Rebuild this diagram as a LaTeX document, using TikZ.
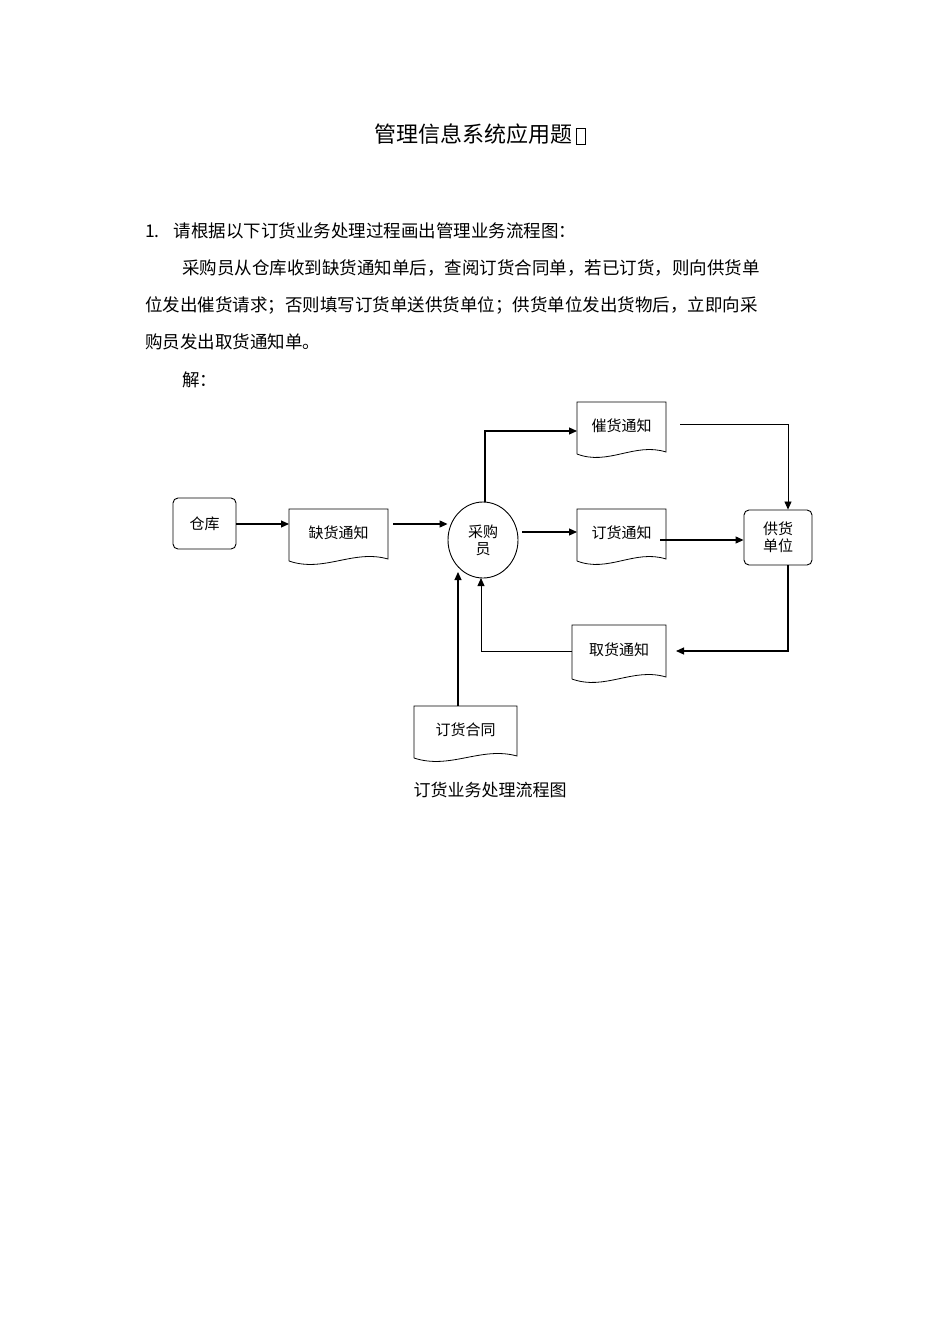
\documentclass[tikz,border=0pt]{standalone}
\usepackage{fontspec}
\setmainfont{Noto Sans CJK SC}
\usetikzlibrary{arrows.meta,shapes.geometric}
\tikzset{
  arr/.style={-{Triangle[length=8pt,width=7pt]},line width=1.1pt},
  ln/.style={line width=0.8pt},
  rbox/.style={draw,line width=0.9pt,rounded corners=5pt},
  lbl/.style={font=\fontsize{15pt}{17pt}\selectfont},
  body/.style={anchor=west,font=\fontsize{17.5pt}{20pt}\selectfont,inner sep=0pt}
}
% doc: name, x0, y0(top), x1, y1(bottom), text
\newcommand{\docshape}[6]{%
  \draw[line width=0.8pt] (#2,#5-4) -- (#2,#3) -- (#4,#3) -- (#4,#5-6)
    .. controls ({#4-0.35*(#4-#2)},#5-16) and ({#2+0.35*(#4-#2)},#5+8) .. (#2,#5-4);
  \node[lbl,inner sep=0pt] (#1) at ({(#2+#4)/2},{#3+0.42*(#5-#3)}) {#6};
  \coordinate (#1top) at ({(#2+#4)/2},#3);
}
\begin{document}
\begin{tikzpicture}[x=1pt,y=-1pt]
\useasboundingbox[fill=white] (0,0) rectangle (950,1344);
\node[font=\fontsize{22pt}{26pt}\selectfont] (title) at (480,134) {管理信息系统应用题\,\raisebox{1pt}{\fbox{\rule{0pt}{10pt}\hspace{3pt}}}};
\node[body] (l1) at (145,231) {1.\hspace{14pt}请根据以下订货业务处理过程画出管理业务流程图：};
\node[body] (l2) at (182,268) {采购员从仓库收到缺货通知单后，查阅订货合同单，若已订货，则向供货单};
\node[body] (l3) at (145,305) {位发出催货请求；否则填写订货单送供货单位；供货单位发出货物后，立即向采};
\node[body] (l4) at (145,342) {购员发出取货通知单。};
\node[body] (l5) at (182,380) {解：};

\node[rbox,lbl,minimum width=63pt,minimum height=51pt] (ck) at (204.5,523.5) {仓库};
\node[rbox,lbl,minimum width=68pt,minimum height=55pt,align=center] (gh) at (778,537.5) {供货\\单位};
\node[draw,ellipse,line width=0.9pt,minimum width=70pt,minimum height=76pt,lbl,align=center,inner sep=0pt] (cg) at (483,540) {采购\\员};
\docshape{qh}{289}{509}{388}{565}{缺货通知}
\docshape{ch}{577}{402}{666}{458}{催货通知}
\docshape{dh}{577}{509}{666}{565}{订货通知}
\docshape{qu}{572}{625}{666}{683}{取货通知}
\docshape{ht}{414}{706}{517}{762}{订货合同}
\node[font=\fontsize{17pt}{20pt}\selectfont] (cap) at (490,790) {订货业务处理流程图};

\coordinate (a2) at (289,524);
\draw[arr] (ck.east |- a2) -- (a2);
\draw[arr] (393,524) -- (cg.west |- 0,524);
\draw[arr] (485,502) -- (485,431) -- (577,431);
\draw[arr] (522,532) -- (577,532);
\draw[arr] (660,540) -- (gh.west |- 0,540);
\draw[ln,-{Triangle[length=8pt,width=7pt]}] (680,424) -- (788,424) -- (gh.north -| 788,0);
\draw[arr] (gh.south -| 788,0) -- (788,651) -- (676,651);
\draw[ln,-{Triangle[length=8pt,width=7pt]}] (572,651) -- (481,651) -- (481,578);
\draw[arr] (httop -| 458,0) -- (458,572);
\end{tikzpicture}
\end{document}
